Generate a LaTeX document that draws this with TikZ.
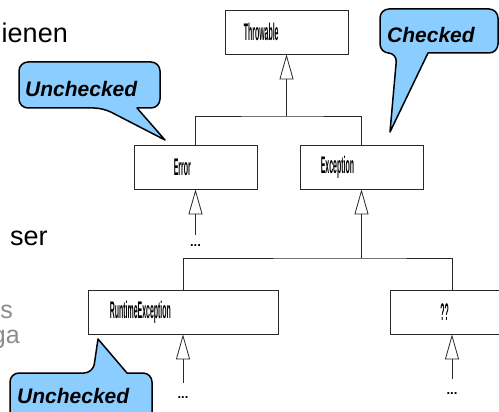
\documentclass[tikz,border=0pt]{standalone}
\usepackage{fontspec}
\setmainfont{Liberation Sans}
\usepackage{graphicx}
\usepackage{tikz}
\usetikzlibrary{arrows.meta, positioning}
\definecolor{bleuclair}{RGB}{140,205,255}
\definecolor{trait}{RGB}{40,40,40}
\definecolor{gris}{RGB}{140,140,140}
\newcommand{\classe}[1]{\scalebox{0.29}[1]{#1}}

\begin{document}
\begin{tikzpicture}[x=1pt, y=-1pt,
	boite/.style={draw=trait, line width=0.8pt, minimum width=123pt, minimum height=44pt, inner sep=0pt},
	nom/.style={inner sep=0pt, anchor=west, font=\fontsize{24}{24}\selectfont\bfseries},
	points/.style={inner sep=0pt, font=\fontsize{13}{13}\selectfont\bfseries},
	lien/.style={draw=trait, line width=0.8pt},
	herite/.style={lien, -{Triangle[open, length=25pt, width=14pt]}},
	bulle/.style={fill=bleuclair, draw=black, line width=1.5pt, line join=round},
	etiq/.style={inner sep=0pt, anchor=base west, font=\fontsize{21}{21}\selectfont\bfseries\itshape},
	fond/.style={inner sep=0pt, font=\fontsize{27}{27}\selectfont}]
	\useasboundingbox (0,0) rectangle (499,412);
	\clip (0,0) rectangle (499,412);
	% restes du texte de la diapositive
	\node[fond, anchor=base east] (t1) at (68,43) {ienen};
	\node[fond, anchor=base west] (t2) at (10,245) {ser};
	\node[fond, gris, font=\fontsize{25}{25}\selectfont, anchor=base east] (t3) at (13,318) {s};
	\node[fond, gris, font=\fontsize{25}{25}\selectfont, anchor=base east] (t4) at (20,343) {ga};
	% classes
	\node[boite] (thr) at (286.5,32) {};
	\node[boite] (err) at (195.5,167) {};
	\node[boite] (exc) at (361.5,167) {};
	\node[boite, minimum width=190pt] (rte) at (183,312) {};
	\node[boite] (unk) at (452,312) {};
	\node[nom, right=19pt of thr.west] (thr-t) {\classe{Throwable}};
	\node[nom, right=40pt of err.west] (err-t) {\classe{Error}};
	\node[nom, right=21pt of exc.west] (exc-t) {\classe{Exception}};
	\node[nom, right=22pt of rte.west] (rte-t) {\classe{RuntimeException}};
	\node[nom, right=50pt of unk.west] (unk-t) {\classe{??}};
	% heritage
	\coordinate (b1) at (286.5,116);
	\coordinate (b2) at (361.5,258);
	\draw[lien] (err.north) |- (b1) -| (exc.north);
	\draw[herite] (b1) -- (thr.south);
	\draw[lien] (rte.north) |- (b2) -| (unk.north);
	\draw[herite] (b2) -- (exc.south);
	\coordinate (e1) at (195.5,235);
	\coordinate (e2) at (183,383);
	\coordinate (e3) at (452,379);
	\draw[herite] (e1) -- (err.south);
	\draw[herite] (e2) -- (rte.south);
	\draw[herite] (e3) -- (unk.south);
	\node[points, below=9pt of e1] (d1) {...};
	\node[points, below=13pt of e2] (d2) {...};
	\node[points, below=13pt of e3] (d3) {...};
	% bulles
	\draw[bulle] (90,62) [rounded corners=9pt] -- (19,62) -- (19,108) -- (103,108) [sharp corners] -- (165,140) -- (137,108) [rounded corners=9pt] -- (160,108) -- (160,62) -- cycle;
	\draw[bulle] (440,9) [rounded corners=9pt] -- (380,9) -- (380,53) -- (397,53) [sharp corners] -- (390,132) -- (428,53) [rounded corners=9pt] -- (498,53) -- (498,9) -- cycle;
	\draw[bulle] (10,425) [rounded corners=9pt] -- (10,373) -- (93,373) [sharp corners] -- (98,339) -- (127,373) [rounded corners=9pt] -- (152,373) -- (152,425) -- cycle;
	\node[etiq] (unc1) at (25,97) {Unchecked};
	\node[etiq] (chk) at (387,43) {Checked};
	\node[etiq] (unc2) at (17,403) {Unchecked};
\end{tikzpicture}
\end{document}
